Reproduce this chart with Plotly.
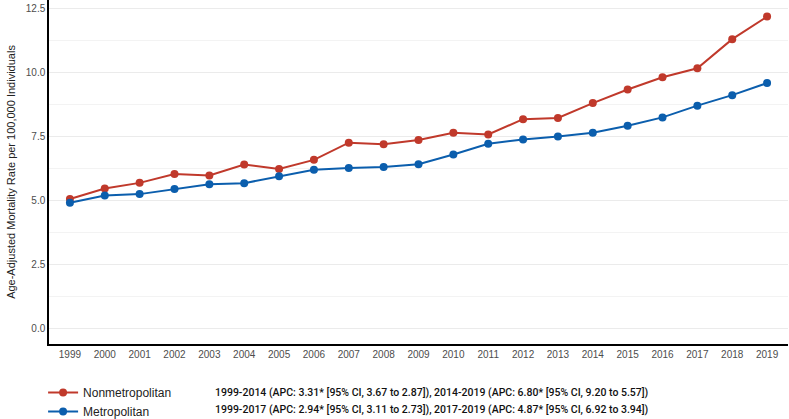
import plotly.graph_objects as go

years = list(range(1999, 2020))
nonmetro = [5.07, 5.48, 5.70, 6.05, 5.99, 6.42, 6.24, 6.60, 7.27, 7.21,
            7.38, 7.66, 7.59, 8.19, 8.24, 8.82, 9.35, 9.83, 10.18, 11.32, 12.20]
metro = [4.92, 5.21, 5.26, 5.46, 5.65, 5.69, 5.96, 6.21, 6.28, 6.32,
         6.43, 6.81, 7.23, 7.40, 7.51, 7.66, 7.93, 8.26, 8.72, 9.13, 9.60]
y_ticks = [0.0, 2.5, 5.0, 7.5, 10.0, 12.5]
y_tick_labels = ["0.0", "2.5", "5.0", "7.5", "10.0", "12.5"]
series_names = ["Nonmetropolitan", "Metropolitan"]
apc_texts = [
    "1999-2014 (APC: 3.31* [95% CI, 3.67 to 2.87]), 2014-2019 (APC: 6.80* [95% CI, 9.20 to 5.57])",
    "1999-2017 (APC: 2.94* [95% CI, 3.11 to 2.73]), 2017-2019 (APC: 4.87* [95% CI, 6.92 to 3.94])",
]
colors = ["#C0392B", "#0B5EAD"]

PLOT_H = 344
PLOT_W = 739

fig = go.Figure()
for name, vals, c in zip(series_names, [nonmetro, metro], colors):
    fig.add_trace(go.Scatter(
        x=years, y=vals, name=name, mode="lines+markers",
        line=dict(color=c, width=2), marker=dict(color=c, size=8),
    ))

fig.update_layout(
    width=789, height=419,
    margin=dict(l=49, r=1, t=0, b=75, autoexpand=False),
    paper_bgcolor="white", plot_bgcolor="white",
    font=dict(family="Liberation Sans, Arial, sans-serif", color="#333333"),
    showlegend=True,
    legend=dict(
        orientation="v", x=-0.008, y=-(378 - PLOT_H) / PLOT_H, xanchor="left", yanchor="top",
        font=dict(size=12, color="#222222"), tracegroupgap=0,
        itemwidth=30, bgcolor="rgba(0,0,0,0)",
    ),
    xaxis=dict(
        range=[1998.4, 2019.6], tickmode="array", tickvals=years,
        ticktext=[str(y) for y in years], showgrid=False, zeroline=False,
        showline=True, linecolor="#000000", linewidth=1.5,
        ticks="", tickfont=dict(size=10, color="#4d4d4d"),
    ),
    yaxis=dict(
        range=[-0.6, 12.85], tickmode="array", tickvals=y_ticks,
        ticktext=y_tick_labels, showgrid=True, gridcolor="#EBEBEB", gridwidth=1,
        minor=dict(tickmode="array", tickvals=[1.25, 3.75, 6.25, 8.75, 11.25],
                   showgrid=True, gridcolor="#F3F3F3", gridwidth=1),
        zeroline=False, showline=True, linecolor="#000000", linewidth=1.5,
        ticks="", tickfont=dict(size=10, color="#4d4d4d"),
        title=dict(text="Age-Adjusted Mortality Rate per 100,000 Individuals",
                   font=dict(size=11, color="#222222"), standoff=8),
    ),
)

for i, t in enumerate(apc_texts):
    fig.add_annotation(
        text=t, xref="paper", yref="paper", x=(213 - 49) / PLOT_W,
        y=-(392 + 18 * i - PLOT_H) / PLOT_H, xanchor="left", yanchor="middle",
        showarrow=False, font=dict(size=10.5, color="#111111", family="Roboto, sans-serif", weight=500),
    )

fig.write_html("out.html", config={"displayModeBar": False},
               post_script="document.body.style.margin='0';")
